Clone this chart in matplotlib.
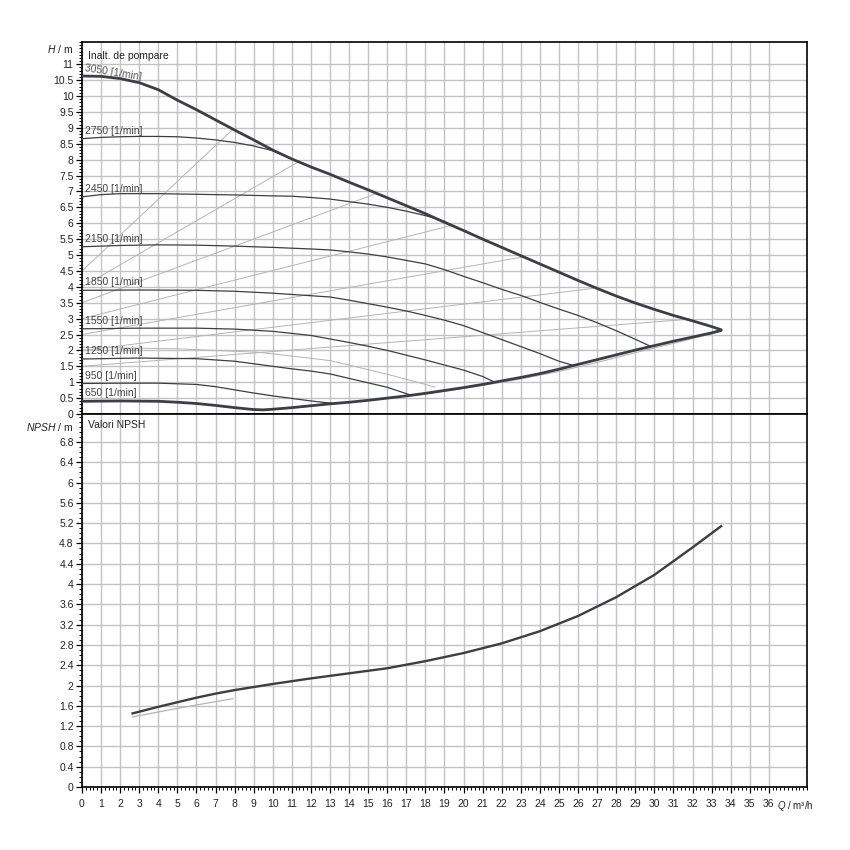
import matplotlib
matplotlib.use("Agg")
import matplotlib.pyplot as plt
from matplotlib.ticker import MultipleLocator, FixedLocator, FuncFormatter
import numpy as np

plt.rcParams['font.family'] = ['Liberation Sans', 'DejaVu Sans']
plt.rcParams['mathtext.fontset'] = 'custom'
plt.rcParams['mathtext.it'] = 'Liberation Sans:italic'
plt.rcParams['mathtext.rm'] = 'Liberation Sans'

# ---------------- data ----------------
# max curve (3050 1/min, power limited)
q_max = [0, 1, 2, 3, 4, 5, 6, 7, 8, 9, 10, 11, 12, 13, 14, 15, 16, 17, 18, 19, 20,
         21, 22, 23, 24, 25, 26, 27, 28, 29, 30, 31, 32, 33, 33.5]
h_max = [10.63, 10.62, 10.55, 10.42, 10.2, 9.87, 9.57, 9.25, 8.93, 8.62, 8.3, 8.02,
         7.77, 7.54, 7.29, 7.05, 6.8, 6.55, 6.3, 6.03, 5.77, 5.5, 5.24, 4.98, 4.72,
         4.46, 4.2, 3.95, 3.71, 3.49, 3.29, 3.1, 2.93, 2.75, 2.65]

# min curve (650 1/min and lower limit)
q_min = [0, 2, 4, 5, 6, 7, 8, 9, 9.5, 10, 11, 12, 13, 14, 15, 16, 17, 18, 19, 20,
         21, 22, 23, 24, 25, 26, 27, 28, 29, 30, 31, 32, 33, 33.5]
h_min = [0.4, 0.41, 0.4, 0.37, 0.33, 0.27, 0.2, 0.14, 0.13, 0.15, 0.2, 0.26, 0.32,
         0.37, 0.43, 0.5, 0.57, 0.65, 0.74, 0.83, 0.93, 1.04, 1.15, 1.27, 1.41, 1.56,
         1.71, 1.86, 2.01, 2.15, 2.29, 2.42, 2.55, 2.63]

# speed curves
q_2750 = [0, 1, 2, 3, 4, 5, 6, 7, 8, 9, 10, 11.1]
h_2750 = [8.66, 8.7, 8.72, 8.73, 8.73, 8.72, 8.68, 8.62, 8.54, 8.43, 8.28, 8.0]
q_2450 = [0, 1, 2, 4, 6, 8, 10, 11, 12, 13, 14, 15, 16, 17, 18, 19, 19.5]
h_2450 = [6.83, 6.9, 6.93, 6.93, 6.91, 6.89, 6.86, 6.85, 6.81, 6.76, 6.68, 6.6,
          6.5, 6.38, 6.24, 6.06, 5.9]
q_2150 = [0, 2, 4, 6, 8, 10, 12, 13, 14, 15, 16, 17, 18, 19, 20, 21, 22, 23, 24,
          25, 26, 27, 28, 29, 29.8]
h_2150 = [5.26, 5.3, 5.32, 5.31, 5.28, 5.24, 5.19, 5.16, 5.1, 5.03, 4.94, 4.83,
          4.72, 4.54, 4.33, 4.13, 3.92, 3.73, 3.51, 3.3, 3.1, 2.87, 2.62, 2.35, 2.13]
q_1850 = [0, 3, 6, 8, 10, 12, 13, 14, 15, 16, 17, 18, 19, 20, 21, 22, 23, 24, 25, 25.8]
h_1850 = [3.89, 3.9, 3.89, 3.86, 3.8, 3.72, 3.68, 3.58, 3.47, 3.36, 3.24, 3.1,
          2.95, 2.78, 2.56, 2.34, 2.12, 1.9, 1.66, 1.52]
q_1550 = [0, 3, 6, 8, 10, 12, 13, 14, 15, 16, 17, 18, 19, 20, 21, 21.6]
h_1550 = [2.68, 2.7, 2.7, 2.67, 2.6, 2.47, 2.36, 2.25, 2.13, 2.0, 1.85, 1.7, 1.54,
          1.38, 1.18, 1.01]
q_1250 = [0, 3, 6, 8, 9, 10, 11, 12, 13, 14, 15, 16, 17.2]
h_1250 = [1.73, 1.76, 1.74, 1.66, 1.58, 1.5, 1.42, 1.35, 1.26, 1.12, 0.98, 0.84, 0.6]
q_950 = [0, 2, 4, 6, 7, 8, 9, 10, 11, 12, 13.2]
h_950 = [0.96, 0.97, 0.97, 0.93, 0.86, 0.76, 0.66, 0.57, 0.49, 0.41, 0.33]

speeds = ["3050", "2750", "2450", "2150", "1850", "1550", "1250", "950", "650"]
speed_start_h = [10.63, 8.66, 6.83, 5.26, 3.89, 2.68, 1.73, 0.96, 0.4]

# grey control lines (start at Q=0, end on max curve)
dpv_h0 = [4.5, 4.0, 3.5, 3.0, 2.5, 2.0, 1.5]
dpv_q1 = [7.9, 11.4, 15.5, 19.5, 23.2, 26.8, 31.6]
dpv_h1 = [8.95, 7.95, 6.95, 5.95, 4.95, 3.95, 2.97]

# grey auxiliary curves
q_grey = [0, 5, 9.3, 13, 16, 18.5]
h_grey = [2.1, 2.05, 1.94, 1.68, 1.25, 0.85]
q_grey2 = [17, 19, 21, 23, 25, 27, 29, 31, 33.5]
h_grey2 = [0.55, 0.71, 0.9, 1.1, 1.34, 1.62, 1.93, 2.22, 2.6]

# NPSH
q_npsh = [2.65, 4, 5, 6, 7, 8, 10, 12, 14, 16, 18, 20, 22, 24, 26, 28, 30, 32, 33.5]
npsh = [1.45, 1.58, 1.67, 1.76, 1.84, 1.91, 2.03, 2.14, 2.24, 2.34, 2.48, 2.64,
        2.83, 3.07, 3.37, 3.74, 4.18, 4.72, 5.14]
q_npsh_grey = [2.65, 5, 7.9]
npsh_grey = [1.38, 1.55, 1.74]

h_ticks = [i * 0.5 for i in range(23)]
npsh_ticks = [round(i * 0.4, 1) for i in range(18)]
q_ticks = list(range(37))

# ---------------- figure ----------------
dark = '#3b3e46'
grey = '#b4b4b4'
gridc = '#c3c3c3'
txtc = '#222222'

fig = plt.figure(figsize=(8.5, 8.5), dpi=100)
ax1 = fig.add_axes([0.09647, 0.51294, 0.85294, 0.43765])
ax2 = fig.add_axes([0.09647, 0.07412, 0.85294, 0.43882])


def fmt(v, pos=None):
    s = ('%.1f' % v)
    if s.endswith('.0'):
        s = s[:-2]
    return s


for ax in (ax1, ax2):
    ax.set_xlim(0, 38)
    ax.xaxis.set_major_locator(FixedLocator(q_ticks))
    ax.xaxis.set_minor_locator(MultipleLocator(0.2))
    ax.grid(True, which='major', color=gridc, linewidth=1.0, zorder=0)
    ax.set_axisbelow(True)
    for sp in ax.spines.values():
        sp.set_color('black')
        sp.set_linewidth(1.2)
    ax.tick_params(which='major', direction='out', length=4, width=0.9,
                   colors='black', labelsize=7.5, labelcolor=txtc, pad=2)
    ax.tick_params(which='minor', direction='out', length=2.2, width=0.7,
                   colors='black')
    ax.tick_params(axis='x', which='major', pad=5)

# top panel
ax1.set_ylim(0, 11.7)
ax1.yaxis.set_major_locator(FixedLocator(h_ticks))
ax1.yaxis.set_minor_locator(MultipleLocator(0.1))
ax1.yaxis.set_major_formatter(FuncFormatter(lambda v, p: '' if v > 11.2 else fmt(v)))
ax1.tick_params(axis='x', which='both', bottom=False, labelbottom=False)

# grey control lines
for h0, q1, h1 in zip(dpv_h0, dpv_q1, dpv_h1):
    ax1.plot([0, q1], [h0, h1], color=grey, lw=0.7, zorder=2)
ax1.plot(q_grey, h_grey, color=grey, lw=0.7, zorder=2)
ax1.plot(q_grey2, h_grey2, color=grey, lw=0.8, zorder=2)

for q, h in [(q_2750, h_2750), (q_2450, h_2450), (q_2150, h_2150), (q_1850, h_1850),
             (q_1550, h_1550), (q_1250, h_1250), (q_950, h_950)]:
    ax1.plot(q, h, color=dark, lw=0.9, zorder=3)
ax1.plot(q_max, h_max, color=dark, lw=2.0, zorder=4, solid_capstyle='round')
ax1.plot(q_min, h_min, color=dark, lw=2.0, zorder=4, solid_capstyle='round')
ax1.plot([q_max[-1], q_min[-1]], [h_max[-1], h_min[-1]], color=dark, lw=2.0, zorder=4)

for sp, h0 in zip(speeds, speed_start_h):
    if sp == "3050":
        ax1.text(0.1, h0 + 0.1, sp + " [1/min]", fontsize=7.5, color='#555555',
                 rotation=-9, va='center', ha='left', zorder=5)
    else:
        ax1.text(0.15, h0 + 0.25, sp + " [1/min]", fontsize=7.5, color='#444444',
                 va='center', ha='left', zorder=5)

ax1.text(0.008, 0.975, "Inalt. de pompare", transform=ax1.transAxes, fontsize=7.5,
         color=txtc, va='top', ha='left')
ax1.text(-0.012, 11.48, r"$\mathit{H}$ / m", transform=ax1.get_yaxis_transform(),
         fontsize=7.5, color=txtc, va='center', ha='right')

# bottom panel
ax2.set_ylim(0, 7.35)
ax2.yaxis.set_major_locator(FixedLocator(npsh_ticks))
ax2.yaxis.set_minor_locator(MultipleLocator(0.1))
ax2.yaxis.set_major_formatter(FuncFormatter(lambda v, p: '' if v > 7.0 else fmt(v)))
ax2.xaxis.set_major_formatter(FuncFormatter(lambda v, p: '%d' % v if v <= 36 else ''))
ax2.plot(q_npsh_grey, npsh_grey, color=grey, lw=0.9, zorder=2)
ax2.plot(q_npsh, npsh, color=dark, lw=1.7, zorder=4)
ax2.text(0.008, 0.985, "Valori NPSH", transform=ax2.transAxes, fontsize=7.5,
         color=txtc, va='top', ha='left')
ax2.text(-0.012, 7.1, r"$\mathit{NPSH}$ / m", transform=ax2.get_yaxis_transform(),
         fontsize=7.5, color=txtc, va='center', ha='right')
ax2.annotate(r"$\mathit{Q}$ / m³/h", xy=(36.42, 0), xycoords=('data', 'axes fraction'),
             xytext=(0, -8.5), textcoords='offset points', fontsize=7,
             color=txtc, va='top', ha='left')

fig.savefig("out.png", dpi=100, facecolor='white')
